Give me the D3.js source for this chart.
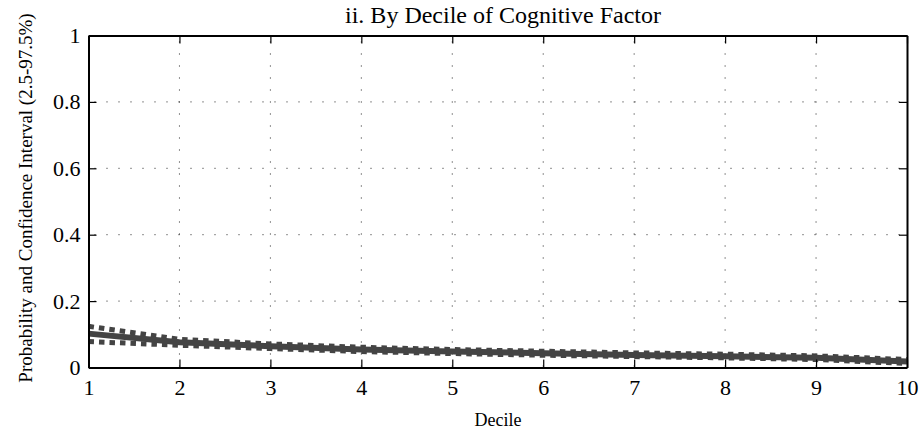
<!DOCTYPE html>
<html><head><meta charset="utf-8">
<script src="https://cdn.jsdelivr.net/npm/d3@7"></script>
<style>body{margin:0;background:#fff}svg{display:block}text{font-family:"Liberation Serif","Times New Roman",serif;fill:#000}</style>
</head><body><svg id="c" width="921" height="434"></svg>
<script>
const deciles=[1,2,3,4,5,6,7,8,9,10];
const prob=[0.102,0.076,0.064,0.054,0.048,0.043,0.038,0.034,0.029,0.018];
const upper=[0.124,0.085,0.071,0.061,0.054,0.049,0.044,0.040,0.035,0.024];
const lower=[0.078,0.067,0.057,0.048,0.042,0.037,0.033,0.029,0.024,0.012];
const xTicks=[1,2,3,4,5,6,7,8,9,10];
const yTicks=[0,0.2,0.4,0.6,0.8,1];
const L=88.5,R=907,T=35.5,B=367.5;
const svg=d3.select("#c");
const x=d3.scaleLinear().domain([1,10]).range([L,R]);
const y=d3.scaleLinear().domain([0,1]).range([B,T]);
const g=svg.append("g");
// grid
g.selectAll(".gx").data(xTicks.slice(1,-1)).join("line").attr("x1",d=>x(d)).attr("x2",d=>x(d)).attr("y1",T+6).attr("y2",B)
 .attr("stroke","#222").attr("stroke-width",1).attr("stroke-dasharray","1,11");
g.selectAll(".gy").data(yTicks.slice(1,-1)).join("line").attr("y1",d=>y(d)).attr("y2",d=>y(d)).attr("x1",L+6).attr("x2",R)
 .attr("stroke","#222").attr("stroke-width",1).attr("stroke-dasharray","1,11");
// lines
const line=d3.line().x((d,i)=>x(deciles[i])).y(d=>y(d));
g.append("path").datum(upper).attr("d",line).attr("fill","none").attr("stroke","#444").attr("stroke-width",5).attr("stroke-dasharray","5.5,5");
g.append("path").datum(lower).attr("d",line).attr("fill","none").attr("stroke","#444").attr("stroke-width",5).attr("stroke-dasharray","5.5,5");
g.append("path").datum(prob).attr("d",line).attr("fill","none").attr("stroke","#444").attr("stroke-width",6);
// axes
const ax=svg.append("g").attr("transform",`translate(0,${B})`).call(d3.axisBottom(x).tickValues(xTicks).tickSizeInner(-8).tickSizeOuter(0).tickPadding(12).tickFormat(d3.format("d")));
const axT=svg.append("g").attr("transform",`translate(0,${T})`).call(d3.axisTop(x).tickValues(xTicks).tickSizeInner(-8).tickSizeOuter(0).tickFormat(""));
const ay=svg.append("g").attr("transform",`translate(${L},0)`).call(d3.axisLeft(y).tickValues(yTicks).tickSizeInner(-8).tickSizeOuter(0).tickPadding(8).tickFormat(d=>d===0||d===1?d3.format("d")(d):d3.format(".1f")(d)));
const ayR=svg.append("g").attr("transform",`translate(${R},0)`).call(d3.axisRight(y).tickValues(yTicks).tickSizeInner(-8).tickSizeOuter(0).tickFormat(""));
[ax,axT,ay,ayR].forEach(a=>{a.select(".domain").attr("stroke","#000").attr("stroke-width",2);a.selectAll(".tick line").attr("stroke","#000").attr("stroke-width",1.2);a.selectAll("text").attr("font-size",22).attr("font-family","Liberation Serif");});
svg.append("text").attr("x",503).attr("y",23).attr("text-anchor","middle").attr("font-size",24).text("ii. By Decile of Cognitive Factor");
svg.append("text").attr("x",498).attr("y",426).attr("text-anchor","middle").attr("font-size",18).text("Decile");
svg.append("text").attr("transform","translate(32,198) rotate(-90)").attr("text-anchor","middle").attr("font-size",19).text("Probability and Confidence Interval (2.5-97.5%)");
</script></body></html>
